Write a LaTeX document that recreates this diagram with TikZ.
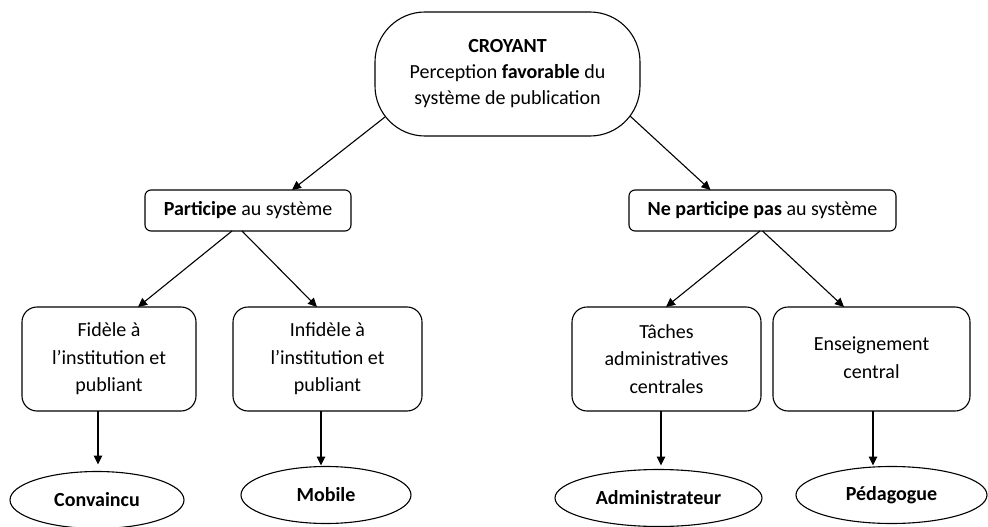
\documentclass[tikz,border=0pt]{standalone}
\usepackage{fontspec}
\setmainfont{Carlito}
\usetikzlibrary{arrows.meta,calc,shapes.geometric}
\begin{document}
\begin{tikzpicture}[x=1pt,y=-1pt,
  every node/.style={inner sep=0pt,outer sep=0pt,align=center,font=\fontsize{20}{27.5}\selectfont},
  topbox/.style={draw,line width=1.1pt,rounded corners=50pt,minimum width=265pt,minimum height=124pt,font=\fontsize{20}{26}\selectfont},
  midbox/.style={draw,line width=1.1pt,rounded corners=6pt,minimum height=41pt},
  leafbox/.style={draw,line width=1.1pt,rounded corners=15pt,minimum height=104pt},
  endell/.style={draw,line width=1.1pt,ellipse,minimum height=57pt,font=\fontsize{20}{24}\selectfont\bfseries},
  arr/.style={line width=1.1pt,-{Triangle[length=9pt,width=8.5pt]}}]
\useasboundingbox (0,0) rectangle (988,527);

\node[topbox] (top) at (507.5,74) {\textbf{CROYANT}\\Perception \textbf{favorable} du\\système de publication};

\node[midbox,minimum width=206pt] (part) at (248,210.5) {\textbf{Participe} au système};
\node[midbox,minimum width=267pt] (nepart) at (762.5,210.5) {\textbf{Ne participe pas} au système};

\node[leafbox,minimum width=174pt] (fid) at (109,359) {Fidèle à\\l’institution et\\publiant};
\node[leafbox,minimum width=189pt] (infid) at (327.5,359) {Infidèle à\\l’institution et\\publiant};
\node[leafbox,minimum width=189pt] (taches) at (666.5,359) {Tâches\\administratives\\centrales};
\node[leafbox,minimum width=197pt] (ens) at (871.5,359) {\raisebox{-7pt}{\begin{tabular}{@{}c@{}}Enseignement\\central\end{tabular}}};

\node[endell,minimum width=174pt] (conv) at (97,500) {Convaincu};
\node[endell,minimum width=170pt] (mob) at (326,495) {\raisebox{2pt}{Mobile}};
\node[endell,minimum width=207pt] (adm) at (658.5,498) {Administrateur};
\node[endell,minimum width=191pt] (ped) at (891.5,495) {\raisebox{2pt}{Pédagogue}};

\draw[arr] ($(top.south west)+(10,-19)$) -- ($(part.north)+(44,0)$);
\draw[arr] ($(top.south east)+(-10,-20)$) -- ($(nepart.north)+(-52,0)$);

\draw[arr] ($(part.south)+(-16,0)$) -- ($(fid.north)+(29,0)$);
\draw[arr] ($(part.south)+(-6,0)$) -- ($(infid.north)+(-10.5,0)$);
\draw[arr] ($(nepart.south)+(-2.5,0)$) -- ($(taches.north)+(-0.5,0)$);
\draw[arr] (nepart.south) -- ($(ens.north)+(-27.5,0)$);

\draw[arr] ($(fid.south)+(-11,0)$) -- ($(conv.north)+(1,-7)$);
\draw[arr] ($(infid.south)+(-6.5,0)$) -- ($(mob.north)+(-5,-1)$);
\draw[arr] ($(taches.south)+(-5.5,0)$) -- ($(adm.north)+(2.5,-4)$);
\draw[arr] ($(ens.south)+(1.5,0)$) -- ($(ped.north)+(-18.5,-1)$);
\end{tikzpicture}
\end{document}
